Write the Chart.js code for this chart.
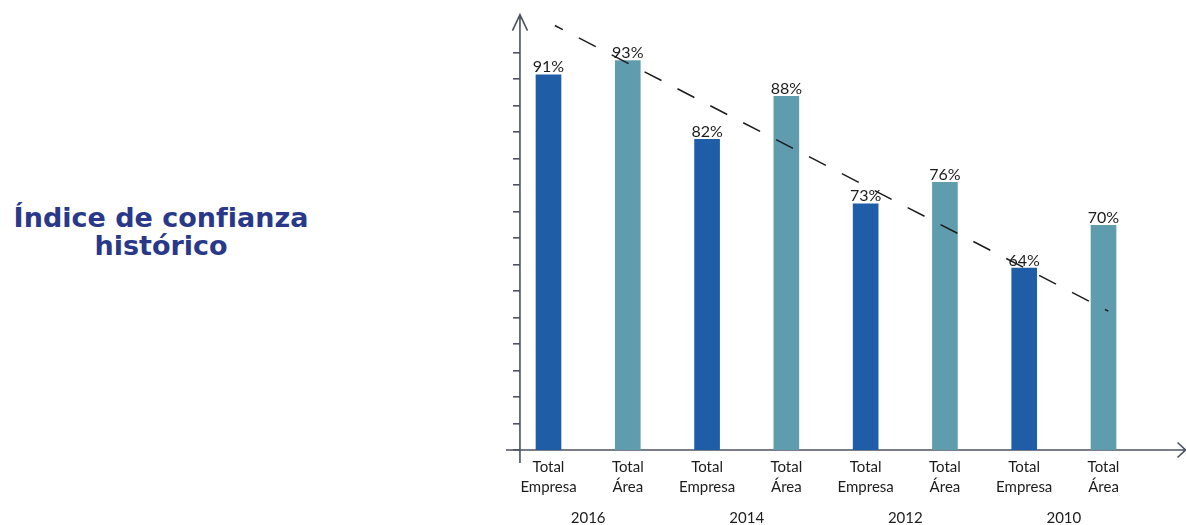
<!DOCTYPE html>
<html lang="es">
<head>
<meta charset="utf-8">
<title>Índice de confianza histórico</title>
<script src="https://cdn.jsdelivr.net/npm/chart.js@4.4.1/dist/chart.umd.min.js"></script>
<style>
    html, body { margin: 0; padding: 0; background: #fff; overflow: hidden; }
    #title {
        position: absolute; left: 0; top: 204px; width: 322px;
        text-align: center; color: #2a3889;
        font: 700 27px "DejaVu Sans", sans-serif; line-height: 28.4px;
    }
    #wrap { position: absolute; left: 0; top: 0; width: 1186px; height: 532px; }
</style>
</head>
<body>
<div id="title">Índice de confianza<br>histórico</div>
<div id="wrap"><canvas id="chart"></canvas></div>
<script>
(function () {
    'use strict';

    // Data
    var YEARS = ['2016', '2014', '2012', '2010'];
    var GROUPS = [['Total', 'Empresa'], ['Total', 'Área']];
    var EMPRESA = [91, 82, 73, 64];
    var AREA = [93, 88, 76, 70];

    // Dashed trend line, end points [category position, value]
    var TREND_X = [0.08, 7.06];
    var TREND_Y = [97.9, 58.0];

    var COLOR_EMPRESA = '#1f5da7';
    var COLOR_AREA = '#5f9cad';
    var AXIS_COLOR = '#4d5263';
    var INK = '#1c1c1c';
    var Y_AXIS_AT = -0.36;

    // Flatten into one bar per category
    var labels = [], values = [], colors = [];
    YEARS.forEach(function (y, i) {
        labels.push(GROUPS[0].slice(), GROUPS[1].slice());
        values.push(EMPRESA[i], AREA[i]);
        colors.push(COLOR_EMPRESA, COLOR_AREA);
    });

    var trend = TREND_X.map(function (x, i) { return { x: x, y: TREND_Y[i] }; });

    // Axis lines with arrow heads, crossing each other like the original
    var axisLines = {
        id: 'axisLines',
        beforeDatasetsDraw: function (chart) {
            var ctx = chart.ctx, area = chart.chartArea;
            var ax = chart.scales.x.getPixelForValue(Y_AXIS_AT);
            var base = area.bottom;
            var w = chart.width;
            ctx.save();
            ctx.strokeStyle = AXIS_COLOR;
            ctx.lineWidth = 1.6;
            ctx.beginPath();
            ctx.moveTo(ax, base + 13);
            ctx.lineTo(ax, area.top - 38);
            ctx.moveTo(ax - 7.5, area.top - 22);
            ctx.lineTo(ax, area.top - 38);
            ctx.lineTo(ax + 7.5, area.top - 22);
            ctx.moveTo(ax - 14, base);
            ctx.lineTo(w - 0.5, base);
            ctx.moveTo(w - 8.5, base - 7.5);
            ctx.lineTo(w - 0.5, base);
            ctx.lineTo(w - 8.5, base + 7.5);
            ctx.stroke();
            ctx.restore();
        }
    };

    // Percentage labels above each bar
    var valueLabels = {
        id: 'valueLabels',
        beforeDatasetsDraw: function (chart) {
            var meta = chart.getDatasetMeta(1);
            var ctx = chart.ctx;
            ctx.save();
            ctx.font = '16px Lato';
            ctx.fillStyle = INK;
            ctx.textAlign = 'center';
            ctx.textBaseline = 'alphabetic';
            meta.data.forEach(function (bar, i) {
                ctx.fillText(values[i] + '%', bar.x, bar.y - 2.5);
            });
            ctx.restore();
        }
    };

    new Chart(document.getElementById('chart'), {
        type: 'bar',
        data: {
            labels: labels,
            datasets: [{
                type: 'line',
                data: trend,
                xAxisID: 'xt',
                yAxisID: 'y',
                borderColor: INK,
                borderWidth: 1.5,
                borderDash: [19, 18],
                borderDashOffset: 10,
                pointRadius: 0,
                fill: false,
                clip: false,
                order: 0,
            }, {
                data: values,
                xAxisID: 'x',
                yAxisID: 'y',
                backgroundColor: colors,
                barThickness: 25,
                grouped: false,
                borderWidth: 0,
                order: 1,
            }],
        },
        options: {
            responsive: true,
            maintainAspectRatio: false,
            animation: false,
            events: [],
            layout: { padding: { left: 508.85, right: 42.85, top: 52.7, bottom: 0 } },
            plugins: {
                legend: { display: false },
                tooltip: { enabled: false },
            },
            scales: {
                x: {
                    type: 'category',
                    position: 'bottom',
                    offset: true,
                    grid: { display: false, drawTicks: false },
                    border: { display: false },
                    ticks: {
                        color: INK,
                        font: { family: 'Lato', size: 15, lineHeight: 1.3333 },
                        padding: 7,
                        autoSkip: false,
                        maxRotation: 0,
                        minRotation: 0,
                    },
                },
                xYear: {
                    type: 'category',
                    labels: YEARS,
                    position: 'bottom',
                    offset: true,
                    weight: 1,
                    grid: { display: false, drawTicks: false },
                    border: { display: false },
                    ticks: {
                        color: INK,
                        font: { family: 'Lato', size: 15, lineHeight: 1.2 },
                        padding: 5,
                        autoSkip: false,
                        maxRotation: 0,
                        minRotation: 0,
                    },
                },
                xt: { type: 'linear', display: false, offset: false, bounds: 'data', min: -0.5, max: 7.5 },
                y: {
                    type: 'linear',
                    axis: 'y',
                    position: { x: Y_AXIS_AT },
                    min: 38.6,
                    max: 94.1,
                    grid: {
                        drawOnChartArea: false,
                        drawTicks: true,
                        tickLength: 7,
                        color: AXIS_COLOR,
                        lineWidth: 1.6,
                    },
                    border: { display: false },
                    ticks: { display: false, count: 16 },
                },
            },
        },
        plugins: [axisLines, valueLabels],
    });
})();
</script>
</body>
</html>
